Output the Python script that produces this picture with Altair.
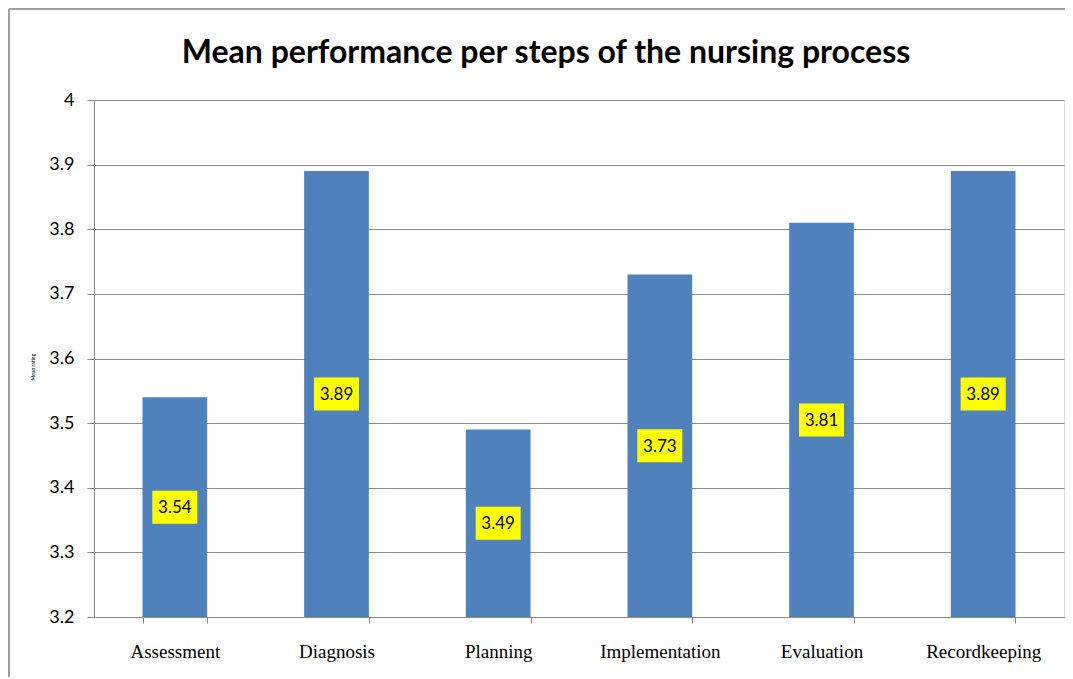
import altair as alt
import pandas as pd

steps = ["Assessment", "Diagnosis", "Planning", "Implementation", "Evaluation", "Recordkeeping"]
means = [3.54, 3.89, 3.49, 3.73, 3.81, 3.89]
y_ticks = [3.2, 3.3, 3.4, 3.5, 3.6, 3.7, 3.8, 3.9, 4.0]
base = 3.2
title_text = "Mean performance per steps of the nursing process"
y_title = "Mean rating"

df = pd.DataFrame({"step": steps, "mean": means})

W, H = 970, 517
PAD = {"left": 86, "top": 92, "right": 1, "bottom": 60}

xenc = alt.X(
    "step:N", sort=steps, title=None,
    scale=alt.Scale(paddingInner=0.6, paddingOuter=0.3),
    axis=alt.Axis(
        labelAngle=0, labelFont="Liberation Serif", labelFontSize=19, labelColor="#000000",
        labelPadding=19, tickBand="extent", tickSize=6, tickColor="#888888",
        domainColor="#888888", grid=False,
    ),
)
yscale = alt.Scale(domain=[3.2, 4.0], nice=False, zero=False)
yaxis = alt.Axis(
    values=y_ticks, format=".1~f", title=None,
    labelFont="Lato", labelFontSize=18, labelColor="#000000", labelPadding=13,
    tickSize=7, tickColor="#888888", domainColor="#888888",
    grid=True, gridColor="#8c8c8c", gridWidth=1,
)

bars = alt.Chart(df).mark_bar(color="#4F81BD").encode(
    x=xenc,
    y=alt.Y("mean:Q", scale=yscale, axis=yaxis),
    y2=alt.datum(base),
)

boxes = alt.Chart(df).transform_calculate(mid=f"({base} + datum.mean) / 2").mark_point(
    shape="M-1,-0.733L1,-0.733L1,0.733L-1,0.733Z", size=2025,
    filled=True, fill="#FFFF00", stroke=None, opacity=1,
).encode(
    x=alt.X("step:N", sort=steps),
    y=alt.Y("mid:Q", scale=yscale),
)

labels = alt.Chart(df).transform_calculate(mid=f"({base} + datum.mean) / 2").mark_text(
    font="Lato", fontSize=17, color="#000000", baseline="middle", align="center", dy=1,
).encode(
    x=alt.X("step:N", sort=steps),
    y=alt.Y("mid:Q", scale=yscale),
    text=alt.Text("mean:Q", format=".2f"),
)

one = pd.DataFrame({"t": [title_text], "yt": [y_title]})

title = alt.Chart(one).mark_text(
    font="Lato", fontSize=32, fontWeight="bold", color="#000000",
    align="center", baseline="alphabetic",
).encode(x=alt.value(452), y=alt.value(-37), text="t:N")

ytitle = alt.Chart(one).mark_text(
    font="Lato", fontSize=5, color="#000000", angle=270,
    align="center", baseline="middle",
).encode(x=alt.value(-61), y=alt.value(267), text="yt:N")

border_top = alt.Chart(one).mark_rule(color="#A0A0A0", strokeWidth=2).encode(
    x=alt.value(-85), x2=alt.value(W + 2), y=alt.value(-91), y2=alt.value(-91)
)
border_left = alt.Chart(one).mark_rule(color="#A0A0A0", strokeWidth=2).encode(
    x=alt.value(-85), x2=alt.value(-85), y=alt.value(-91), y2=alt.value(H + PAD["bottom"])
)

chart = alt.layer(bars, boxes, labels, title, ytitle, border_top, border_left).properties(
    width=W, height=H,
    autosize=alt.AutoSizeParams(type="none"),
    padding=PAD,
).configure_view(stroke=None).configure(background="#ffffff")

chart.save("out.html", embed_options={"renderer": "svg", "actions": False})
